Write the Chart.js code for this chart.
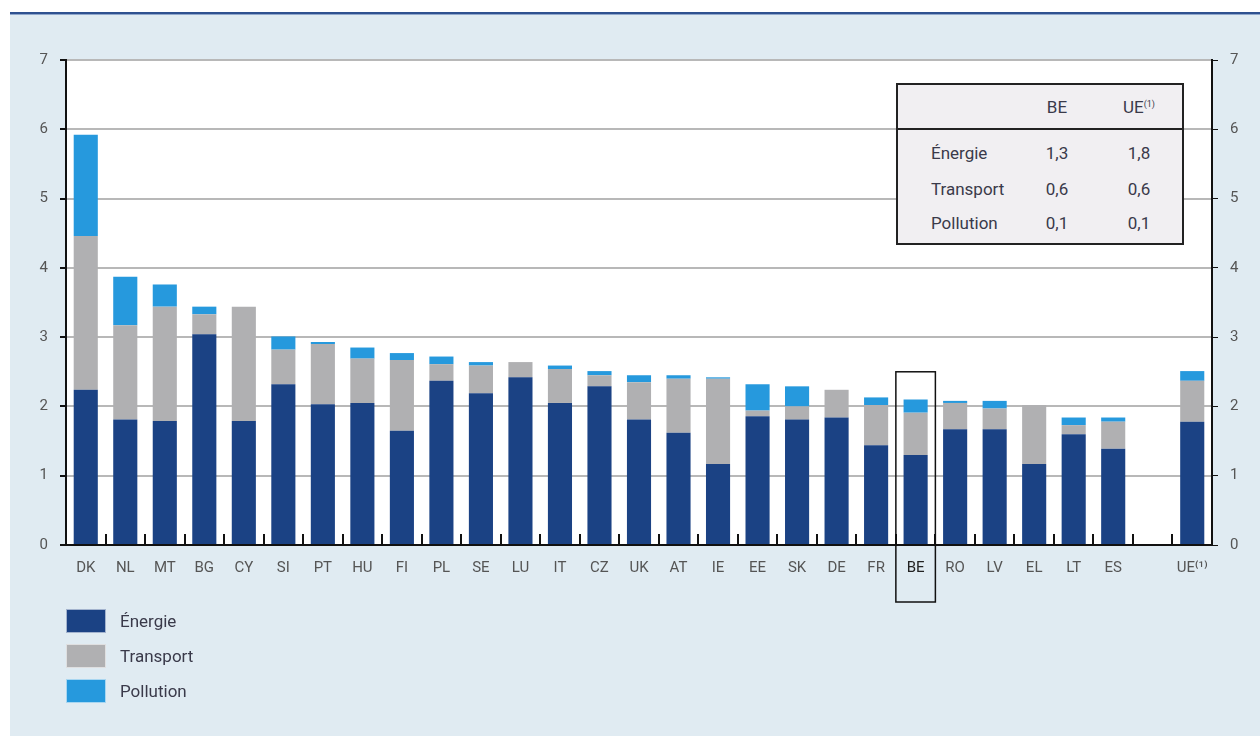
<!DOCTYPE html>
<html>
<head>
<meta charset="utf-8">
<script src="https://cdn.jsdelivr.net/npm/chart.js@4/dist/chart.umd.min.js"></script>
<style>
  body { margin: 0; width: 1260px; height: 736px; background: #fff; position: relative; overflow: hidden; font-family: Roboto, "Liberation Sans", sans-serif; }
  .rule { position: absolute; left: 10px; right: 0; top: 12px; height: 2px; background: #2f5190; border-bottom: 1px solid #8fa7cc; }
  .panel { position: absolute; left: 10px; right: 0; top: 15px; bottom: 0; background: #e0ebf2; }
  .chart-box { position: absolute; left: 0; top: 0; width: 1260px; height: 610px; }
  .inset { position: absolute; left: 896px; top: 83px; width: 284px; height: 158px; border: 2px solid #222; background: #f1eff2; color: #3a3a4a; font-size: 17px; }
  .inset table { border-collapse: collapse; width: 100%; table-layout: fixed; }
  .inset th { font-weight: normal; height: 43px; padding: 0; border-bottom: 2px solid #222; text-align: center; }
  .inset td { height: 34px; padding: 0; text-align: center; }
  .inset td.lbl { text-align: left; padding-left: 33px; }
  .inset tr.first td { height: 38px; padding-top: 4px; }
  .legend { position: absolute; left: 66px; top: 609px; color: #3a3a4a; font-size: 17px; }
  .legend div { height: 24px; margin-bottom: 11px; display: flex; align-items: center; }
  .legend span.sw { width: 40px; height: 24px; margin-right: 14px; box-sizing: border-box; border: 1px solid rgba(255,255,255,0.6); }
</style>
</head>
<body>
<div class="rule"></div>
<div class="panel"></div>
<div class="chart-box"><canvas id="chart"></canvas></div>
<div class="inset" id="inset"></div>
<div class="legend" id="legend"></div>

<script>
// Pays (une case vide avant la moyenne UE)
const countries = ['DK', 'NL', 'MT', 'BG', 'CY', 'SI', 'PT', 'HU', 'FI', 'PL', 'SE', 'LU', 'IT', 'CZ', 'UK',
    'AT', 'IE', 'EE', 'SK', 'DE', 'FR', 'BE', 'RO', 'LV', 'EL', 'LT', 'ES', '', 'UE⁽¹⁾'];

// Valeurs (% du PIB)
const energie = [2.24, 1.81, 1.79, 3.04, 1.79, 2.32, 2.03, 2.05, 1.65, 2.37, 2.19, 2.42, 2.05, 2.29, 1.81,
    1.62, 1.17, 1.86, 1.81, 1.84, 1.44, 1.30, 1.67, 1.67, 1.17, 1.60, 1.39, null, 1.78];
const transport = [2.22, 1.36, 1.65, 0.29, 1.65, 0.50, 0.87, 0.64, 1.02, 0.24, 0.40, 0.22, 0.49, 0.16, 0.54,
    0.78, 1.23, 0.08, 0.19, 0.40, 0.58, 0.61, 0.38, 0.30, 0.85, 0.13, 0.39, null, 0.59];
const pollution = [1.46, 0.70, 0.32, 0.11, 0, 0.19, 0.03, 0.16, 0.10, 0.11, 0.05, 0, 0.05, 0.06, 0.10,
    0.05, 0.02, 0.38, 0.29, 0, 0.11, 0.19, 0.03, 0.11, 0, 0.11, 0.06, null, 0.14];

const yTicks = [0, 1, 2, 3, 4, 5, 6, 7];

// Tableau en médaillon
const insetHeader = ['', 'BE', 'UE<sup style="font-size:9px;vertical-align:6px">(1)</sup>'];
const insetRows = [
    ['Énergie', '1,3', '1,8'],
    ['Transport', '0,6', '0,6'],
    ['Pollution', '0,1', '0,1']
];
const insetColWidths = [120, 78, 86];

const highlighted = 'BE';

const colors = {
    energie: '#1b4284',
    transport: '#b0b0b2',
    pollution: '#2699dd'
};

// Remplit le fond blanc de la zone de tracé
const plotBackground = {
    id: 'plotBackground',
    beforeDraw(chart) {
        const { ctx, chartArea: a } = chart;
        ctx.save();
        ctx.fillStyle = '#ffffff';
        ctx.fillRect(a.left, a.top, a.right - a.left, a.bottom - a.top);
        ctx.restore();
    }
};

// Petites graduations entre les pays + cadre autour de BE
const extras = {
    id: 'extras',
    afterDatasetsDraw(chart) {
        const { ctx, chartArea: a, scales } = chart;
        const x = scales.x;
        ctx.save();
        ctx.strokeStyle = '#111';
        ctx.lineWidth = 2;
        for (let i = 1; i < countries.length; i++) {
            const bx = Math.round((x.getPixelForValue(i - 1) + x.getPixelForValue(i)) / 2);
            ctx.beginPath();
            ctx.moveTo(bx, a.bottom);
            ctx.lineTo(bx, a.bottom - 11);
            ctx.stroke();
        }
        const idx = countries.indexOf(highlighted);
        const cx = x.getPixelForValue(idx);
        const half = (x.getPixelForValue(1) - x.getPixelForValue(0)) / 2;
        const top = scales.y.getPixelForValue(2.5);
        ctx.lineWidth = 1.5;
        ctx.strokeRect(cx - half, top, half * 2, a.bottom + 57 - top);
        ctx.restore();
    }
};

const tickFont = { family: 'Roboto, "Liberation Sans", sans-serif', size: 15 };

const ctx = document.getElementById('chart').getContext('2d');
new Chart(ctx, {
    type: 'bar',
    data: {
        labels: countries,
        datasets: [
            { label: 'Énergie', data: energie, backgroundColor: colors.energie },
            { label: 'Transport', data: transport, backgroundColor: colors.transport },
            { label: 'Pollution', data: pollution, backgroundColor: colors.pollution }
        ]
    },
    options: {
        responsive: true,
        maintainAspectRatio: false,
        animation: false,
        layout: { padding: { top: 60, left: 0, right: 0, bottom: 0 } },
        datasets: {
            bar: { barPercentage: 0.61, categoryPercentage: 1, borderWidth: 0 }
        },
        plugins: {
            legend: { display: false },
            tooltip: { enabled: false }
        },
        scales: {
            x: {
                stacked: true,
                grid: { display: false, drawTicks: false },
                border: { color: '#111', width: 2 },
                ticks: {
                    padding: 14,
                    font: tickFont,
                    color: (c) => countries[c.index] === highlighted ? '#222' : '#555',
                    maxRotation: 0,
                    autoSkip: false
                },
                afterFit(scale) { scale.height = 65; }
            },
            y: {
                stacked: true,
                min: 0,
                max: 7,
                afterBuildTicks(scale) { scale.ticks = yTicks.map(v => ({ value: v })); },
                grid: { color: '#b8b8b8', lineWidth: 2, tickLength: 6, tickColor: '#111' },
                border: { color: '#111', width: 2 },
                ticks: { padding: 12, font: tickFont, color: '#555' },
                afterFit(scale) { scale.width = 66; }
            },
            y2: {
                position: 'right',
                min: 0,
                max: 7,
                afterBuildTicks(scale) { scale.ticks = yTicks.map(v => ({ value: v })); },
                grid: { drawOnChartArea: false, tickLength: 6, tickColor: '#111' },
                border: { color: '#111', width: 2 },
                ticks: { padding: 12, font: tickFont, color: '#555' },
                afterFit(scale) { scale.width = 48; }
            }
        }
    },
    plugins: [plotBackground, extras]
});

// Tableau BE / UE
let html = '<table><colgroup>' + insetColWidths.map(w => '<col style="width:' + w + 'px">').join('') + '</colgroup><tr>'
    + insetHeader.map(h => '<th>' + h + '</th>').join('') + '</tr>';
insetRows.forEach((r, i) => {
    html += '<tr' + (i === 0 ? ' class="first"' : '') + '><td class="lbl">' + r[0] + '</td><td>' + r[1] + '</td><td>' + r[2] + '</td></tr>';
});
document.getElementById('inset').innerHTML = html + '</table>';

// Légende
const legendItems = [['Énergie', colors.energie], ['Transport', colors.transport], ['Pollution', colors.pollution]];
document.getElementById('legend').innerHTML = legendItems
    .map(([name, c]) => '<div><span class="sw" style="background:' + c + '"></span>' + name + '</div>')
    .join('');
</script>
</body>
</html>
